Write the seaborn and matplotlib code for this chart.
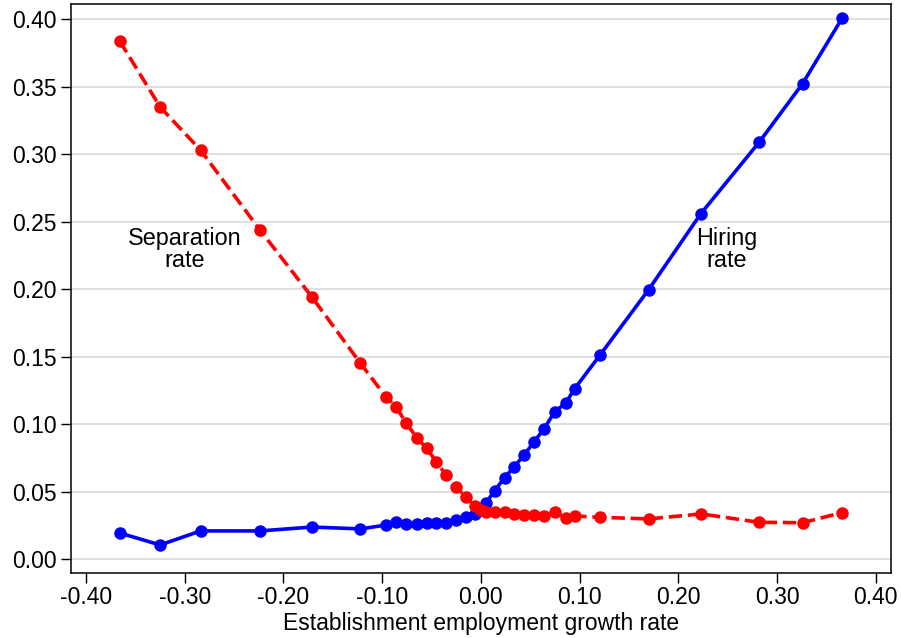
import matplotlib
matplotlib.use("Agg")
import matplotlib.pyplot as plt
import seaborn as sns
import pandas as pd

# growth rate bins (shared by both series)
growth = [-0.366, -0.325, -0.284, -0.224, -0.171, -0.122, -0.096, -0.086, -0.076,
          -0.065, -0.055, -0.045, -0.035, -0.025, -0.015, -0.006, 0.000, 0.005,
          0.014, 0.024, 0.034, 0.044, 0.054, 0.064, 0.075, 0.086, 0.095, 0.121,
          0.170, 0.223, 0.282, 0.326, 0.366]

separation = [0.384, 0.335, 0.303, 0.244, 0.194, 0.145, 0.120, 0.113, 0.101,
              0.090, 0.082, 0.072, 0.062, 0.053, 0.046, 0.039, 0.036, 0.035,
              0.035, 0.0347, 0.0332, 0.0327, 0.0327, 0.0321, 0.0347, 0.0306, 0.0319, 0.0309,
              0.0297, 0.0334, 0.0272, 0.0269, 0.0344]

hiring = [0.0193, 0.0104, 0.0208, 0.0208, 0.0237, 0.0223, 0.0252, 0.0277, 0.026,
          0.026, 0.0269, 0.0269, 0.0269, 0.0289, 0.0314, 0.0334, 0.036, 0.0413,
          0.0507, 0.0603, 0.0685, 0.0772, 0.0870, 0.0965, 0.1093, 0.1155, 0.1262, 0.1514,
          0.1996, 0.2560, 0.3089, 0.3523, 0.4007]

xticks = [-0.40, -0.30, -0.20, -0.10, 0.00, 0.10, 0.20, 0.30, 0.40]
yticks = [0.00, 0.05, 0.10, 0.15, 0.20, 0.25, 0.30, 0.35, 0.40]

df = pd.DataFrame({"growth": growth, "separation": separation, "hiring": hiring})

sns.set_style("white")
plt.rcParams["font.family"] = ["Liberation Sans", "DejaVu Sans"]
plt.rcParams["text.color"] = "black"
plt.rcParams["axes.labelcolor"] = "black"
plt.rcParams["xtick.color"] = "black"
plt.rcParams["ytick.color"] = "black"

fig = plt.figure(figsize=(9.01, 6.38), dpi=100)
ax = fig.add_axes([0.0788, 0.1014, 0.9098, 0.8919])

# gridlines
for yv in yticks:
    ax.axhline(yv, color="#dcdcdc", lw=1.3, zorder=0)

sns.lineplot(data=df, x="growth", y="hiring", color="#0000ff", marker="o",
             markersize=9, markeredgewidth=0, linewidth=2.6, ax=ax, zorder=3)
sns.lineplot(data=df, x="growth", y="separation", color="#ff0000", marker="o",
             markersize=9, markeredgewidth=0, linewidth=2.6, linestyle="--",
             dashes=(5, 2.6), ax=ax, zorder=4)

ax.text(-0.2997, 0.2297, "Separation\nrate", ha="center", va="center",
        fontsize=16.8, linespacing=0.95)
ax.text(0.2495, 0.2297, "Hiring\nrate", ha="center", va="center",
        fontsize=16.8, linespacing=0.95)

ax.set_xlim(-0.4153, 0.4153)
ax.set_ylim(-0.0106, 0.4111)
ax.set_xticks(xticks)
ax.set_yticks(yticks)
ax.set_xticklabels([f"{v:.2f}" for v in xticks])
ax.set_yticklabels([f"{v:.2f}" for v in yticks])
ax.tick_params(axis="both", direction="out", length=7, width=1, labelsize=16.5,
               left=True, bottom=True, colors="black")
ax.tick_params(axis="x", pad=2)
ax.tick_params(axis="y", pad=3)
ax.set_xlabel("Establishment employment growth rate", fontsize=16.5, labelpad=2)
ax.set_ylabel("")

for s in ax.spines.values():
    s.set_visible(True)
    s.set_color("black")
    s.set_linewidth(1.1)

fig.savefig("out.png", dpi=100)
